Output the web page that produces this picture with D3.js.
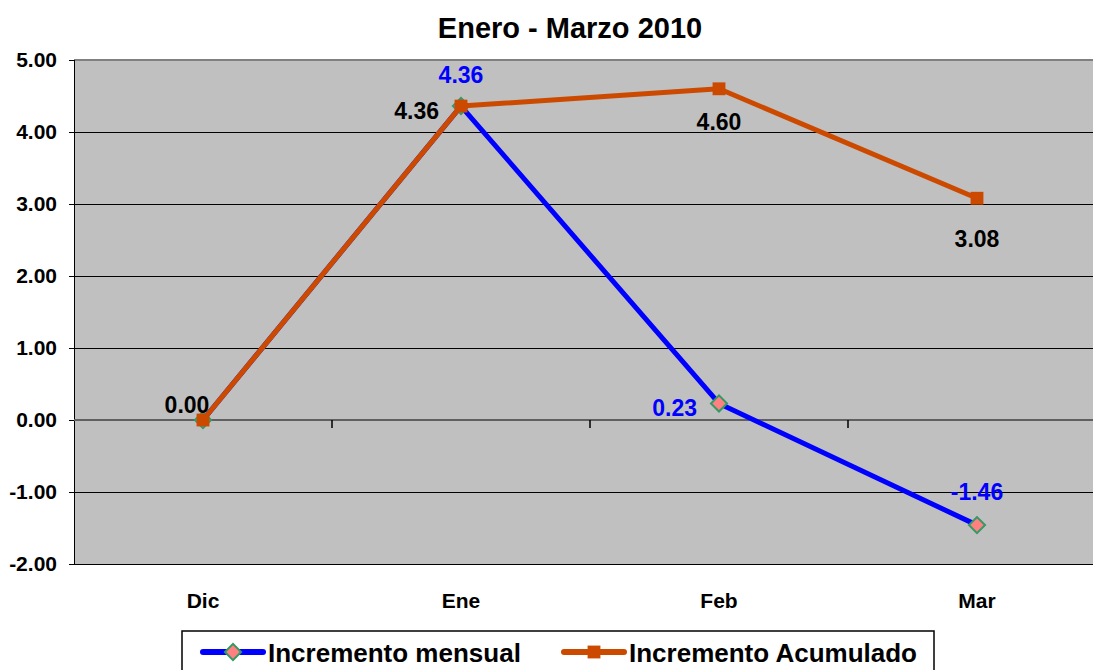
<!DOCTYPE html>
<meta charset="utf-8">
<style>
body { margin: 0; background: #fff; }
text { font-family: "Liberation Sans", Arial, sans-serif; font-weight: bold; }
.line { fill: none; stroke-width: 5px; stroke-linejoin: round; }
</style>
<body>
<svg id="chart" width="1093" height="670"></svg>
<script src="https://d3js.org/d3.v7.min.js"></script>
<script>

// data
var months = ["Dic", "Ene", "Feb", "Mar"];
var mensual = [0.00, 4.36, 0.23, -1.46];
var acumulado = [0.00, 4.36, 4.60, 3.08];
var yTicks = [-2, -1, 0, 1, 2, 3, 4, 5];
var seriesNames = ["Incremento mensual", "Incremento Acumulado"];
var title = "Enero - Marzo 2010";

// where each data label goes (dx, dy from the point, anchor)
var mensualLab = [null, [0, -23, "middle"], [-22, 13, "end"], [0, -25, "middle"]];
var acumLab = [[-16, -7, "middle"], [-22, 13, "end"], [0, 41, "middle"], [0, 49, "middle"]];

// plain hyphen for negatives, like the original
var fmt = d3.formatLocale({decimal: ".", thousands: ",", grouping: [3], currency: ["", ""], minus: "-"}).format(".2f");

var margin = {top: 60, left: 74},
    plotW = 1032,
    plotH = 504;

var svg = d3.select("#chart");

var x = d3.scaleBand().domain(months).range([0, plotW]);
var y = d3.scaleLinear().domain([-2, 5]).range([plotH, 0]);

var g = svg.append("g")
    .attr("transform", "translate(" + margin.left + "," + margin.top + ")");

// plot background
g.append("rect")
    .attr("width", plotW).attr("height", plotH)
    .attr("fill", "#c0c0c0");

// gridlines
g.selectAll(".grid")
  .data(yTicks.filter(function(d) { return d !== 0 && d !== -2; }))
  .enter().append("line")
    .attr("x1", 0).attr("x2", plotW)
    .attr("y1", function(d) { return y(d); })
    .attr("y2", function(d) { return y(d); })
    .attr("shape-rendering", "crispEdges")
    .attr("stroke", function(d) { return d === 5 ? "#808080" : "#000"; })
    .attr("stroke-width", function(d) { return d === 5 ? 2 : 1; });

// bottom border
g.append("line")
    .attr("x1", 0).attr("x2", plotW)
    .attr("y1", plotH).attr("y2", plotH)
    .attr("shape-rendering", "crispEdges")
    .attr("stroke", "#000");

// y axis
var yAxis = g.append("g")
    .call(d3.axisLeft(y).tickValues(yTicks).tickFormat(fmt).tickSize(5).tickPadding(12));
yAxis.attr("shape-rendering", "crispEdges");
yAxis.select(".domain").attr("stroke", "#000").attr("stroke-width", 1.5);
yAxis.selectAll("text")
    .attr("font-size", 21)
    .attr("font-family", "Liberation Sans, Arial, sans-serif")
    .attr("font-weight", "bold")
    .attr("fill", "#000");

// x axis at zero
var xAxis = g.append("g")
    .attr("transform", "translate(0," + y(0) + ")");
xAxis.append("line")
    .attr("x1", 0).attr("x2", plotW)
    .attr("stroke", "#606060").attr("stroke-width", 2);
xAxis.selectAll(".xtick")
  .data(months.slice(1))
  .enter().append("line")
    .attr("x1", function(d) { return x(d); })
    .attr("x2", function(d) { return x(d); })
    .attr("y1", 0).attr("y2", 8)
    .attr("stroke", "#000").attr("stroke-width", 1.5);

// category labels below the plot
g.selectAll(".cat")
  .data(months)
  .enter().append("text")
    .attr("x", function(d) { return x(d) + x.bandwidth() / 2; })
    .attr("y", plotH + 44)
    .attr("text-anchor", "middle")
    .attr("font-size", 21)
    .text(function(d) { return d; });

var cx = function(d, i) { return x(months[i]) + x.bandwidth() / 2; };

var line = d3.line()
    .x(function(d, i) { return cx(d, i); })
    .y(function(d) { return y(d); });

// Incremento mensual
g.append("path")
    .datum(mensual)
    .attr("class", "line")
    .attr("stroke", "#0000ff")
    .attr("d", line);

g.selectAll(".diamond")
  .data(mensual)
  .enter().append("path")
    .attr("d", d3.symbol().type(d3.symbolSquare).size(130))
    .attr("transform", function(d, i) { return "translate(" + cx(d, i) + "," + y(d) + ") rotate(45)"; })
    .attr("fill", "#ff8080")
    .attr("stroke", "#339966")
    .attr("stroke-width", 2);

// Incremento Acumulado
g.append("path")
    .datum(acumulado)
    .attr("class", "line")
    .attr("stroke", "#cc4a00")
    .attr("d", line);

g.selectAll(".sq")
  .data(acumulado)
  .enter().append("path")
    .attr("d", d3.symbol().type(d3.symbolSquare).size(165))
    .attr("transform", function(d, i) { return "translate(" + cx(d, i) + "," + y(d) + ")"; })
    .attr("fill", "#cc4a00");

// data labels
function addLabels(vals, lab, color) {
  vals.forEach(function(d, i) {
    if (!lab[i]) return;
    g.append("text")
        .attr("x", cx(d, i) + lab[i][0])
        .attr("y", y(d) + lab[i][1])
        .attr("text-anchor", lab[i][2])
        .attr("font-size", 23)
        .attr("fill", color)
        .text(fmt(d));
  });
}
addLabels(mensual, mensualLab, "#0000ff");
addLabels(acumulado, acumLab, "#000");

// title
svg.append("text")
    .attr("x", 570).attr("y", 38)
    .attr("text-anchor", "middle")
    .attr("font-size", 29)
    .text(title);

// legend
var leg = svg.append("g").attr("transform", "translate(182,631)");
leg.append("rect")
    .attr("width", 752).attr("height", 60)
    .attr("fill", "#fff")
    .attr("stroke", "#000").attr("stroke-width", 1.5);

var legX = [21, 382];
var legColors = ["#0000ff", "#cc4a00"];
seriesNames.forEach(function(name, i) {
  var item = leg.append("g").attr("transform", "translate(" + legX[i] + ",21)");
  item.append("line")
      .attr("x1", 0).attr("x2", 60)
      .attr("stroke", legColors[i]).attr("stroke-width", 6).attr("stroke-linecap", "round");
  if (i === 0) {
    item.append("path")
        .attr("d", d3.symbol().type(d3.symbolSquare).size(130))
        .attr("transform", "translate(30,0) rotate(45)")
        .attr("fill", "#ff8080").attr("stroke", "#339966").attr("stroke-width", 2);
  } else {
    item.append("path")
        .attr("d", d3.symbol().type(d3.symbolSquare).size(165))
        .attr("transform", "translate(30,0)")
        .attr("fill", "#cc4a00");
  }
  item.append("text")
      .attr("x", 65).attr("y", 10)
      .attr("font-size", 26)
      .text(name);
});

</script>
</body>
